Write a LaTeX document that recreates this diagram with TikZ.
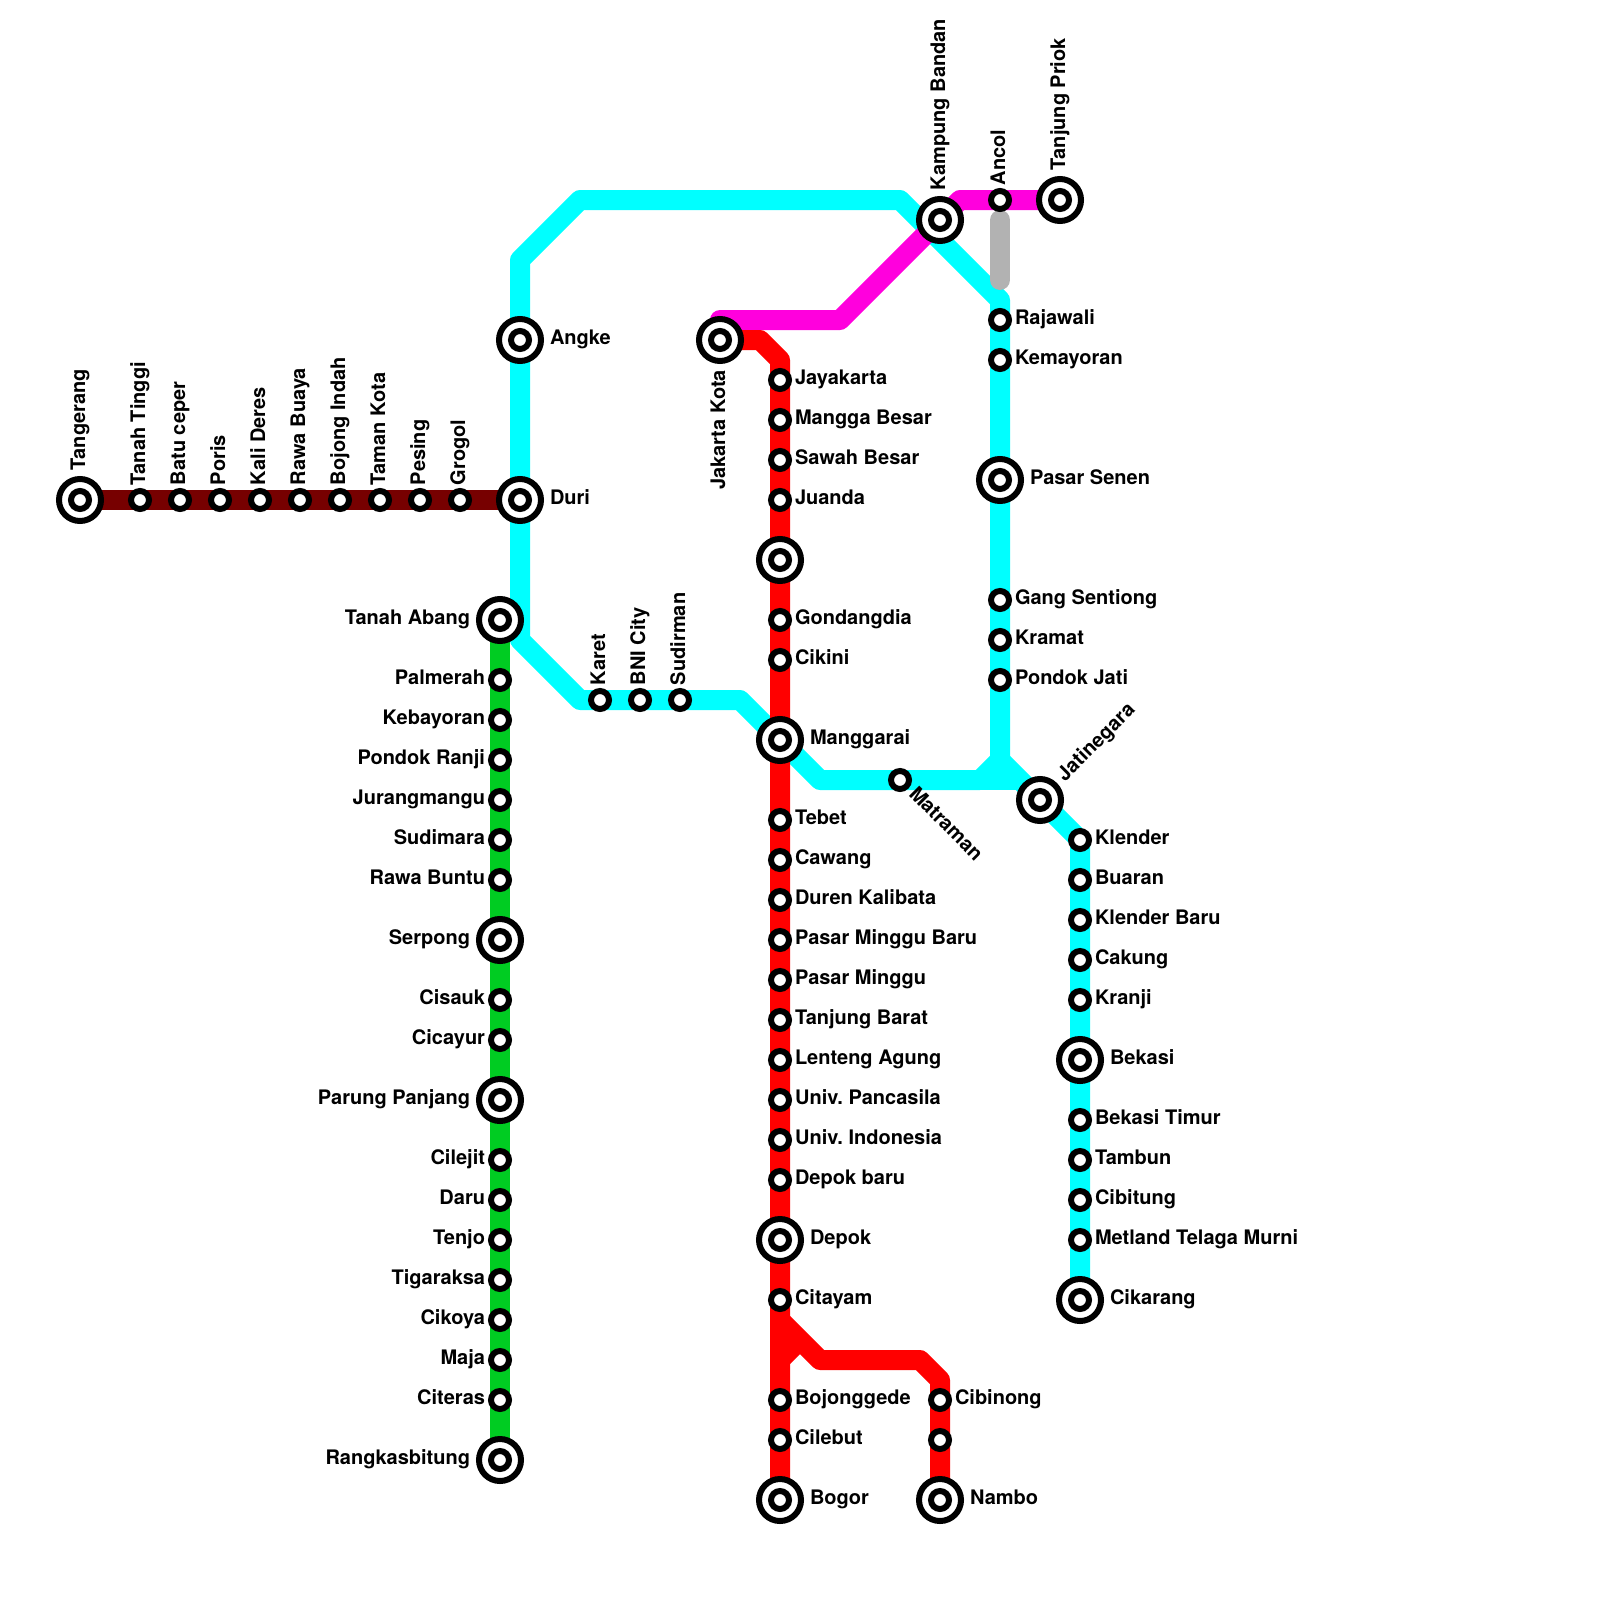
\documentclass[tikz,border=0pt]{standalone}
\usepackage{fontspec}
\setmainfont{TeX Gyre Heros}
\pgfdeclarelayer{lines}
\pgfsetlayers{lines,main}
\definecolor{lnCyan}{HTML}{00FFFF}
\definecolor{lnRed}{HTML}{FF0000}
\definecolor{lnGreen}{HTML}{00CC22}
\definecolor{lnMaroon}{HTML}{770000}
\definecolor{lnMagenta}{HTML}{FF00DD}
\definecolor{lnGray}{HTML}{B2B2B2}
\tikzset{
  stn/.style={circle,draw=black,fill=white,line width=6pt,inner sep=0pt,outer sep=0pt,minimum size=18pt},
  hub/.style={circle,draw=black,fill=white,line width=6pt,inner sep=0pt,outer sep=0pt,minimum size=42pt,
    path picture={\draw[line width=6pt,black] (path picture bounding box.center) circle[radius=9pt];}},
  lbl/.style={inner sep=0pt,outer sep=0pt,font=\fontsize{20}{24}\selectfont\bfseries\frenchspacing,text=black},
  lblR/.style={lbl,anchor=base west},
  lblL/.style={lbl,anchor=base east},
  lblU/.style={lbl,anchor=base west,rotate=90},
  lblD/.style={lbl,anchor=base east,rotate=90},
  track/.style={line width=20pt,line join=round,line cap=butt},
}
\begin{document}
\begin{tikzpicture}[x=1pt,y=-1pt]
\useasboundingbox (0,0) rectangle (1600,1600);
% West line
\node[hub] (tangerang) at (80,500) {};
\node[lblU] (tangerang-l) at ([shift={(5,-30)}]tangerang.center) {Tangerang};
\foreach \n/\x/\t in {tanahtinggi/140/Tanah Tinggi,batuceper/180/Batu ceper,poris/220/Poris,kalideres/260/Kali Deres,rawabuaya/300/Rawa Buaya,bojongindah/340/Bojong Indah,tamankota/380/Taman Kota,pesing/420/Pesing,grogol/460/Grogol}{
  \node[stn] (\n) at (\x,500) {};
  \node[lblU] (\n-l) at ([shift={(5,-15)}]\n.center) {\t};
}
% Hubs on the loop
\node[hub] (angke) at (520,340) {};
\node[lblR] (angke-l) at ([shift={(30,4.8)}]angke.center) {Angke};
\node[hub] (duri) at (520,500) {};
\node[lblR] (duri-l) at ([shift={(30,4.8)}]duri.center) {Duri};
% Green line
\foreach \n/\y/\t in {tanahabang/620/Tanah Abang,serpong/940/Serpong,parungpanjang/1100/Parung Panjang,rangkasbitung/1460/Rangkasbitung}{
  \node[hub] (\n) at (500,\y) {};
  \node[lblL] (\n-l) at ([shift={(-30,4.8)}]\n.center) {\t};
}
\foreach \n/\y/\t in {palmerah/680/Palmerah,kebayoran/720/Kebayoran,pondokranji/760/Pondok Ranji,jurangmangu/800/Jurangmangu,sudimara/840/Sudimara,rawabuntu/880/Rawa Buntu,cisauk/1000/Cisauk,cicayur/1040/Cicayur,cilejit/1160/Cilejit,daru/1200/Daru,tenjo/1240/Tenjo,tigaraksa/1280/Tigaraksa,cikoya/1320/Cikoya,maja/1360/Maja,citeras/1400/Citeras}{
  \node[stn] (\n) at (500,\y) {};
  \node[lblL] (\n-l) at ([shift={(-15,4.8)}]\n.center) {\t};
}
% Sudirman stretch
\foreach \n/\x/\t in {karet/600/Karet,bnicity/640/BNI City,sudirman/680/Sudirman}{
  \node[stn] (\n) at (\x,700) {};
  \node[lblU] (\n-l) at ([shift={(5,-15)}]\n.center) {\t};
}
% Red main line
\node[hub] (kota) at (720,340) {};
\node[lblD] (kota-l) at ([shift={(5,30)}]kota.center) {Jakarta Kota};
\foreach \n/\y/\t in {jayakarta/380/Jayakarta,manggabesar/420/Mangga Besar,sawahbesar/460/Sawah Besar,juanda/500/Juanda,gondangdia/620/Gondangdia,cikini/660/Cikini,tebet/820/Tebet,cawang/860/Cawang,durenkalibata/900/Duren Kalibata,pmb/940/Pasar Minggu Baru,pm/980/Pasar Minggu,tanjungbarat/1020/Tanjung Barat,lentengagung/1060/Lenteng Agung,univpancasila/1100/Univ. Pancasila,univindonesia/1140/Univ. Indonesia,depokbaru/1180/Depok baru,citayam/1300/Citayam,bojonggede/1400/Bojonggede,cilebut/1440/Cilebut}{
  \node[stn] (\n) at (780,\y) {};
  \node[lblR] (\n-l) at ([shift={(15,4.8)}]\n.center) {\t};
}
\node[hub] (gambir) at (780,560) {};
\foreach \n/\y/\t in {manggarai/740/Manggarai,depok/1240/Depok,bogor/1500/Bogor}{
  \node[hub] (\n) at (780,\y) {};
  \node[lblR] (\n-l) at ([shift={(30,4.8)}]\n.center) {\t};
}
% Nambo branch
\node[stn] (cibinong) at (940,1400) {};
\node[lblR] (cibinong-l) at ([shift={(15,4.8)}]cibinong.center) {Cibinong};
\node[stn] (gunungputri) at (940,1440) {};
\node[hub] (nambo) at (940,1500) {};
\node[lblR] (nambo-l) at ([shift={(30,4.8)}]nambo.center) {Nambo};
% North-east
\node[hub] (kampungbandan) at (940,220) {};
\node[lblU] (kampungbandan-l) at ([shift={(5,-30)}]kampungbandan.center) {Kampung Bandan};
\node[stn] (ancol) at (1000,200) {};
\node[lblU] (ancol-l) at ([shift={(5,-15)}]ancol.center) {Ancol};
\node[hub] (priok) at (1060,200) {};
\node[lblU] (priok-l) at ([shift={(5,-30)}]priok.center) {Tanjung Priok};
% East vertical
\foreach \n/\y/\t in {rajawali/320/Rajawali,kemayoran/360/Kemayoran,gangsentiong/600/Gang Sentiong,kramat/640/Kramat,pondokjati/680/Pondok Jati}{
  \node[stn] (\n) at (1000,\y) {};
  \node[lblR] (\n-l) at ([shift={(15,4.8)}]\n.center) {\t};
}
\node[hub] (senen) at (1000,480) {};
\node[lblR] (senen-l) at ([shift={(30,4.8)}]senen.center) {Pasar Senen};
% Matraman, Jatinegara
\node[stn] (matraman) at (900,780) {};
\node[lbl,anchor=base west,rotate=-45] (matraman-l) at ([shift={(8,15)}]matraman.center) {Matraman};
\node[hub] (jatinegara) at (1040,800) {};
\node[lbl,anchor=base west,rotate=45] (jatinegara-l) at ([shift={(25,-18)}]jatinegara.center) {Jatinegara};
% Bekasi line
\foreach \n/\y/\t in {klender/840/Klender,buaran/880/Buaran,klenderbaru/920/Klender Baru,cakung/960/Cakung,kranji/1000/Kranji,bekasitimur/1120/Bekasi Timur,tambun/1160/Tambun,cibitung/1200/Cibitung,metland/1240/Metland Telaga Murni}{
  \node[stn] (\n) at (1080,\y) {};
  \node[lblR] (\n-l) at ([shift={(15,4.8)}]\n.center) {\t};
}
\foreach \n/\y/\t in {bekasi/1060/Bekasi,cikarang/1300/Cikarang}{
  \node[hub] (\n) at (1080,\y) {};
  \node[lblR] (\n-l) at ([shift={(30,4.8)}]\n.center) {\t};
}
% Bends
\coordinate (c1) at (520,260);
\coordinate (c2) at (580,200);
\coordinate (c3) at (900,200);
\coordinate (c4) at (1000,300);
\coordinate (c5) at (1000,760);
\coordinate (c6) at (980,780);
\coordinate (c7) at (820,780);
\coordinate (c8) at (740,700);
\coordinate (c9) at (580,700);
\coordinate (c10) at (520,640);
\coordinate (c11) at (1020,780);
\coordinate (m1) at (720,320);
\coordinate (m2) at (840,320);
\coordinate (m3) at (960,200);
\coordinate (r1) at (760,340);
\coordinate (r2) at (780,360);
\coordinate (r3) at (780,1320);
\coordinate (r4) at (820,1360);
\coordinate (r5) at (920,1360);
\coordinate (r6) at (940,1380);
\coordinate (r7) at (780,1360);
\coordinate (r8) at (800,1340);
\coordinate (g1) at (1000,220);
\coordinate (g2) at (1000,280);
\begin{pgfonlayer}{lines}
\draw[track,lnMaroon] (tangerang.center) -- (duri.center);
\draw[track,lnCyan] (c10) -- (c1) -- (c2) -- (c3) -- (c4) -- (c5) -- (c6) -- (c7) -- (c8) -- (c9) -- cycle;
\draw[track,lnCyan] (c5) -- (jatinegara.center) -- (klender.center) -- (cikarang.center);
\draw[track,lnCyan] (c7) -- (c11);
\draw[track,lnMagenta] (kota.center) -- (m1) -- (m2) -- (m3) -- (priok.center);
\draw[track,lnGreen] (tanahabang.center) -- (rangkasbitung.center);
\draw[track,lnRed] (kota.center) -- (r1) -- (r2) -- (bogor.center);
\draw[track,lnRed] (r3) -- (r4) -- (r5) -- (r6) -- (nambo.center);
\draw[track,lnRed] (r7) -- (r8);
\draw[track,lnGray,line cap=round] (g1) -- (g2);
\end{pgfonlayer}
\end{tikzpicture}
\end{document}
